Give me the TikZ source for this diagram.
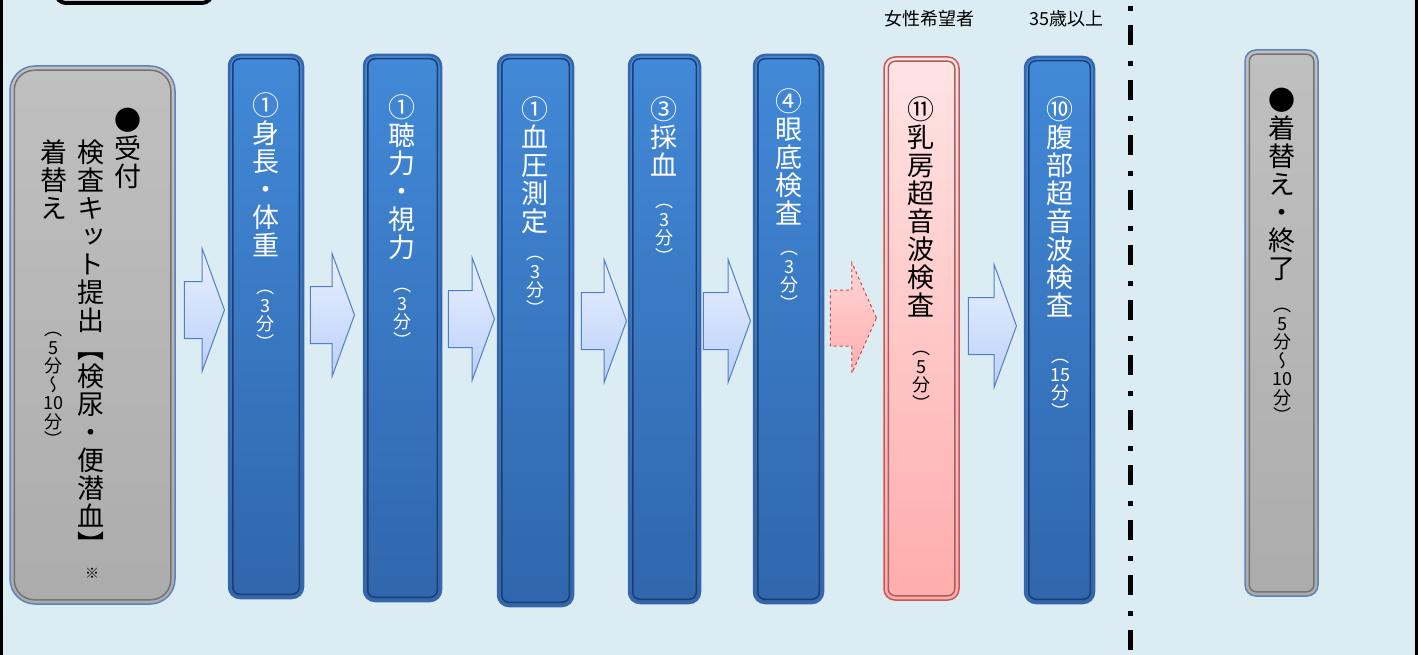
\documentclass[tikz,border=0pt]{standalone}
\usepackage{fontspec}
\usetikzlibrary{shapes.arrows, fit}
\setmainfont{Noto Sans CJK JP}
\newfontfamily\tate{Noto Sans CJK JP}[RawFeature=+vert]
\newcommand\tightlines{\lineskiplimit=-100pt\relax}

\definecolor{bgblue}{RGB}{219,237,243}
\definecolor{boxtop}{RGB}{66,137,216}
\definecolor{boxbot}{RGB}{48,102,172}
\definecolor{boxline}{RGB}{55,102,170}
\definecolor{boxrim}{RGB}{28,62,115}
\definecolor{graytop}{RGB}{192,192,192}
\definecolor{graybot}{RGB}{172,172,172}
\definecolor{grayline}{RGB}{95,130,185}
\definecolor{grayrim}{RGB}{115,115,115}
\definecolor{pinktop}{RGB}{255,228,228}
\definecolor{pinkbot}{RGB}{255,172,172}
\definecolor{pinkline}{RGB}{205,85,85}
\definecolor{pinkrim}{RGB}{165,95,95}
\definecolor{arrtop}{RGB}{234,241,255}
\definecolor{arrbot}{RGB}{186,208,250}
\definecolor{arrline}{RGB}{82,126,196}
\definecolor{parrtop}{RGB}{255,212,212}
\definecolor{parrbot}{RGB}{255,176,176}
\definecolor{parrline}{RGB}{214,72,72}

\begin{document}
\begin{tikzpicture}[x=1pt, y=1pt, yscale=-1,
  bluebox/.style={rectangle, rounded corners=11pt, inner sep=0pt, top color=boxtop, bottom color=boxbot, draw=boxline, line width=2.5pt},
  graybox/.style={rectangle, rounded corners=11pt, inner sep=0pt, top color=graytop, bottom color=graybot, draw=grayline, line width=1.5pt},
  pinkbox/.style={rectangle, rounded corners=11pt, inner sep=0pt, top color=pinktop, bottom color=pinkbot, draw=pinkline, line width=1.5pt},
  rim/.style={rectangle, rounded corners=7pt, inner sep=-5pt, line width=1.5pt},
  blkarrow/.style={single arrow, single arrow head extend=33pt, single arrow tip angle=140, inner xsep=0pt, inner ysep=28pt, top color=arrtop, bottom color=arrbot, draw=arrline, line width=1pt},
  vtext/.style={align=center, inner sep=0pt, anchor=north, font=\tate\fontsize{27pt}{28pt}\selectfont\tightlines},
  vsmall/.style={align=center, inner sep=0pt, anchor=north, font=\tate\fontsize{18pt}{18.5pt}\selectfont\tightlines}]
\useasboundingbox (0,0) rectangle (1421,655);
% 背景と枠
\fill[bgblue] (0,0) rectangle (1416,655);
\fill[white] (1416,0) rectangle (1421,655);
\draw[line width=3pt] (1.5,0) -- (1.5,655);
\draw[line width=3pt] (1416,0) -- (1416,655);
\draw[line width=4pt, rounded corners=10pt] (56,-30) rectangle (212,3);
% 区切り線
\draw[line width=5pt, dash pattern=on 5pt off 14pt on 20pt off 16pt] (1130,6) -- (1130,655);
% 各ステップ
\node[graybox, rounded corners=25pt, minimum width=165pt, minimum height=538pt] (recep) at (92.5,335) {};
\node[bluebox, minimum width=74pt, minimum height=543pt] (hw) at (266,326.5) {};
\node[bluebox, minimum width=77pt, minimum height=546pt] (ear) at (402.5,328) {};
\node[bluebox, minimum width=75pt, minimum height=551pt] (bp) at (535.5,330.5) {};
\node[bluebox, minimum width=71pt, minimum height=548pt] (blood) at (664.5,329) {};
\node[bluebox, minimum width=69pt, minimum height=548pt] (fundus) at (788.5,329) {};
\node[pinkbox, minimum width=75pt, minimum height=543pt] (breast) at (921.5,328.5) {};
\node[bluebox, minimum width=69pt, minimum height=546pt] (abdo) at (1059.5,330) {};
\node[graybox, minimum width=73pt, minimum height=546pt] (fin) at (1281.5,323) {};
% 内側のふち
\node[rim, rounded corners=20pt, draw=grayrim, fit=(recep)] (recepr) {};
\node[rim, draw=boxrim, fit=(hw)] (hwr) {};
\node[rim, draw=boxrim, fit=(ear)] (earr) {};
\node[rim, draw=boxrim, fit=(bp)] (bpr) {};
\node[rim, draw=boxrim, fit=(blood)] (bloodr) {};
\node[rim, draw=boxrim, fit=(fundus)] (fundusr) {};
\node[rim, draw=pinkrim, fit=(breast)] (breastr) {};
\node[rim, draw=boxrim, fit=(abdo)] (abdor) {};
\node[rim, draw=grayrim, fit=(fin)] (finr) {};
% 矢印
\node[blkarrow, minimum height=40pt, anchor=tip] (a1) at (225,310) {};
\node[blkarrow, minimum height=44pt, anchor=tip] (a2) at (355,315) {};
\node[blkarrow, minimum height=46pt, anchor=tip] (a3) at (495,319) {};
\node[blkarrow, minimum height=45pt, anchor=tip] (a4) at (627,321) {};
\node[blkarrow, minimum height=47pt, anchor=tip] (a5) at (751,321) {};
\node[blkarrow, minimum height=46pt, inner ysep=27.5pt, single arrow head extend=27pt, single arrow tip angle=132, top color=parrtop, bottom color=parrbot, draw=parrline, dashed, anchor=tip] (a6) at (877,318) {};
\node[blkarrow, minimum height=48pt, anchor=tip] (a7) at (1017,326) {};
% 文字
\node[vtext] (r1) at (128,108) {●\\受\\付};
\node[vtext] (r2) at (90.5,140) {検\\査\\キ\\ッ\\ト\\提\\出\\【\\検\\尿\\・\\便\\潜\\血\\】};
\node[vtext] (r3) at (54,140) {着\\替\\え};
\node[vsmall] (r4) at (53,332) {（\\5\\分\\〜\\10\\分\\）};
\node[font=\fontsize{14pt}{14pt}\selectfont] (r5) at (92,573) {※};
\node[vtext, text=white] (t1) at (266,92) {①\\身\\長\\・\\体\\重};
\node[vsmall, text=white] (s1) at (265,290) {（\\3\\分\\）};
\node[vtext, text=white] (t2) at (402,94) {①\\聴\\力\\・\\視\\力};
\node[vsmall, text=white] (s2) at (402,288) {（\\3\\分\\）};
\node[vtext, text=white] (t3) at (535,96) {①\\血\\圧\\測\\定};
\node[vsmall, text=white] (s3) at (535,256) {（\\3\\分\\）};
\node[vtext, text=white] (t4) at (664,96) {③\\採\\血};
\node[vsmall, text=white] (s4) at (664,204) {（\\3\\分\\）};
\node[vtext, text=white] (t5) at (789,88) {④\\眼\\底\\検\\査};
\node[vsmall, text=white] (s5) at (789,251) {（\\3\\分\\）};
\node[vtext] (t6) at (921,96) {⑪\\乳\\房\\超\\音\\波\\検\\査};
\node[vsmall] (s6) at (921,351) {（\\5\\分\\）};
\node[vtext, text=white] (t7) at (1060,96) {⑩\\腹\\部\\超\\音\\波\\検\\査};
\node[vsmall, text=white] (s7) at (1060,359) {（\\15\\分\\）};
\node[vtext] (t8) at (1282,88) {●\\着\\替\\え\\・\\終\\了};
\node[vsmall] (s8) at (1282,308) {（\\5\\分\\〜\\10\\分\\）};
% 上の注記
\node[font=\fontsize{18pt}{18pt}\selectfont] (lbw) at (929,19) {女性希望者};
\node[font=\fontsize{18pt}{18pt}\selectfont] (lba) at (1066,19) {35歳以上};
\end{tikzpicture}
\end{document}
